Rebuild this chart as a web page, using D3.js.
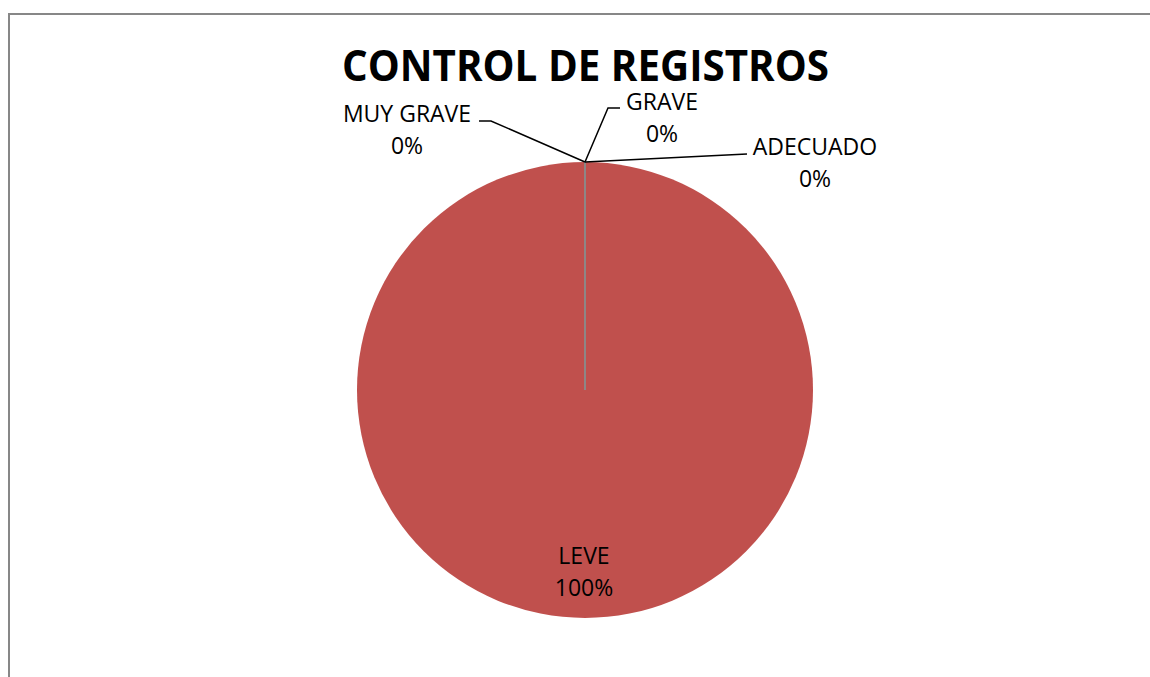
<!DOCTYPE html>
<html>
<head>
<meta charset="utf-8">
<script src="https://cdn.jsdelivr.net/npm/d3@7"></script>
<style>
  body { margin: 0; background: #fff; }
  svg text { font-family: "Open Sans", "Liberation Sans", sans-serif; fill: #000; }
</style>
</head>
<body>
<div id="chart"></div>
<script>
  // datos del grafico
  var categorias = ["ADECUADO", "LEVE", "GRAVE", "MUY GRAVE"];
  var valores = [0, 100, 0, 0];
  var titulo = "CONTROL DE REGISTROS";

  var colores = {"ADECUADO": "#4F81BD", "LEVE": "#C0504D", "GRAVE": "#9BBB59", "MUY GRAVE": "#8064A2"};

  // posiciones de etiquetas (colocacion automatica de Excel)
  var etiquetas = {
    "ADECUADO":  {x: 815, y: 155, ancla: [747, 154]},
    "LEVE":      {x: 584, y: 564, ancla: null},
    "GRAVE":     {x: 662, y: 110, ancla: [608, 108], tramo: 620},
    "MUY GRAVE": {x: 407, y: 122, ancla: [491, 121], tramo: 479}
  };

  var width = 1150, height = 677;
  var cx = 585, cy = 390, radio = 228;

  var svg = d3.select("#chart")
      .append("svg")
      .attr("width", width)
      .attr("height", height)

  // marco
  svg.append("rect")
      .attr("x", 9)
      .attr("y", 14)
      .attr("width", 1200)
      .attr("height", 700)
      .attr("fill", "#fff")
      .attr("stroke", "#878787")
      .attr("stroke-width", 2)

  // titulo
  svg.append("text")
      .attr("x", 342)
      .attr("y", 81)
      .attr("textLength", 487)
      .attr("lengthAdjust", "spacingAndGlyphs")
      .style("font-size", "43px")
      .style("font-weight", "bold")
      .text(titulo)

  var datos = categorias.map(function(c, i) { return {cat: c, valor: valores[i]}; });
  var total = d3.sum(valores);

  var pie = d3.pie().sort(null).value(function(d) { return d.valor; });
  var arc = d3.arc().innerRadius(0).outerRadius(radio);
  var arcos = pie(datos);

  var g = svg.append("g")
      .attr("transform", "translate(" + cx + "," + cy + ")")

  g.selectAll("path")
      .data(arcos)
      .enter()
      .append("path")
      .attr("d", arc)
      .attr("fill", function(d) { return colores[d.data.cat]; })
      .attr("stroke", function(d) { return d.value === 0 ? "#8a8a8a" : "none"; })
      .attr("stroke-width", 1)

  // lineas guia
  arcos.forEach(function(d) {
    var e = etiquetas[d.data.cat];
    if (!e.ancla) return;
    var a = d.startAngle;
    var p0 = [cx + radio * Math.sin(a), cy - radio * Math.cos(a)];
    var pts = [p0, e.ancla];
    if (e.tramo) pts.push([e.tramo, e.ancla[1]]);
    svg.append("path")
        .attr("d", d3.line()(pts))
        .attr("fill", "none")
        .attr("stroke", "#000")
        .attr("stroke-width", 1.5)
  });

  // etiquetas
  arcos.forEach(function(d) {
    var e = etiquetas[d.data.cat];
    var t = svg.append("text")
        .attr("text-anchor", "middle")
        .style("font-size", "23px")
    t.append("tspan")
        .attr("x", e.x)
        .attr("y", e.y)
        .text(d.data.cat)
    t.append("tspan")
        .attr("x", e.x)
        .attr("y", e.y + 32)
        .text(d3.format(".0%")(d.value / total))
  });
</script>
</body>
</html>
